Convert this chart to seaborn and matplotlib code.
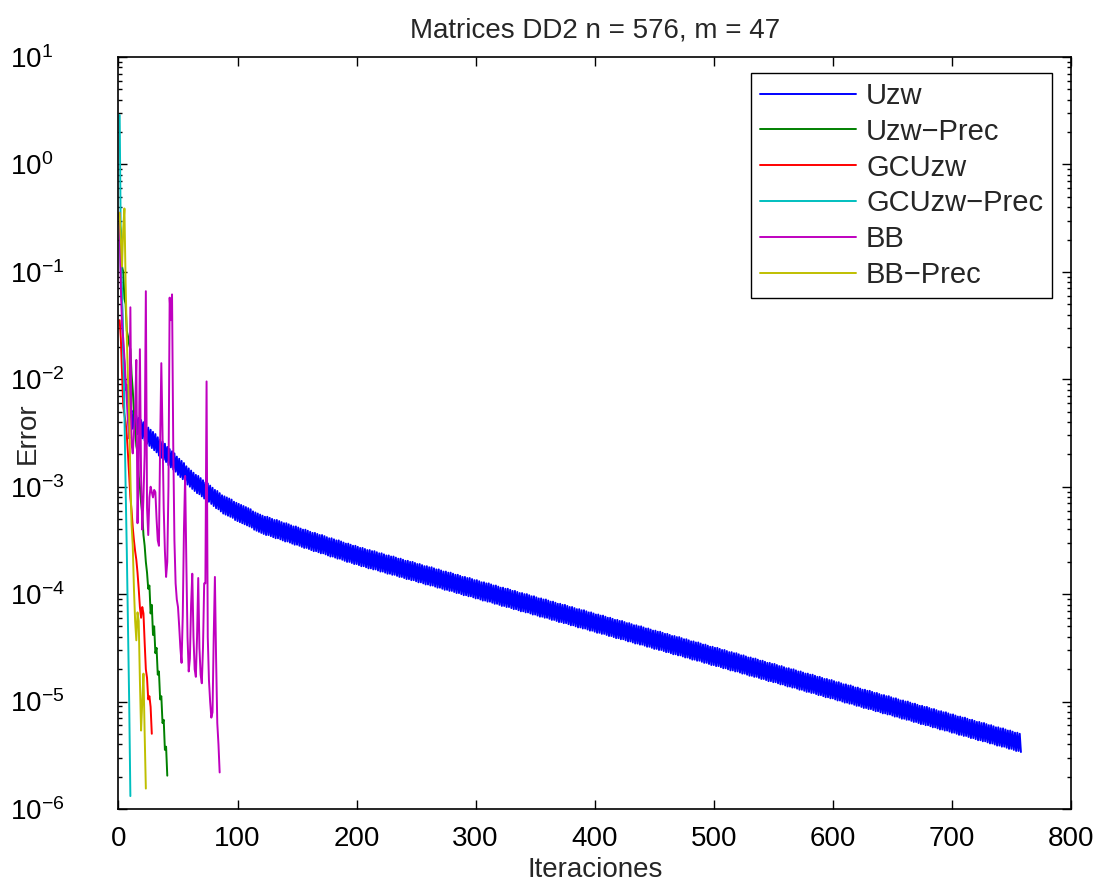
import numpy as np
import matplotlib
matplotlib.use("Agg")
import matplotlib.pyplot as plt
import seaborn as sns

# log10 del error, una entrada por iteracion
# Uzw oscila en cada iteracion: iteraciones impares (arriba) y pares (abajo)
uzw_impar = [
    -0.45, -1.30, -1.85, -2.05, -2.18, -2.29,
    -2.31, -2.34, -2.36, -2.38, -2.40, -2.43, -2.45, -2.47, -2.49, -2.51, -2.54, -2.56, -2.58,
    -2.60, -2.63, -2.65, -2.67, -2.69, -2.72, -2.74, -2.76, -2.78, -2.81, -2.83, -2.85,
    -2.87, -2.89, -2.90, -2.92, -2.94, -2.96, -2.97, -2.99, -3.01, -3.03, -3.04, -3.06, -3.08,
    -3.09, -3.10, -3.11, -3.12, -3.14, -3.15, -3.16, -3.17, -3.18, -3.19, -3.20, -3.21, -3.23,
    -3.24, -3.25, -3.26, -3.27,
    -3.28, -3.28, -3.29, -3.30, -3.31, -3.31, -3.32, -3.33, -3.34, -3.34, -3.35, -3.36, -3.37,
    -3.37, -3.38, -3.39, -3.40, -3.40, -3.41, -3.42,
    -3.43, -3.43, -3.44, -3.45, -3.45, -3.46, -3.47, -3.48, -3.48, -3.49, -3.50, -3.50, -3.51,
    -3.52, -3.53, -3.53, -3.54, -3.55, -3.55, -3.56,
    -3.57, -3.57, -3.58, -3.59, -3.59, -3.60, -3.60, -3.61, -3.62, -3.62, -3.63, -3.64, -3.64, -3.65, -3.65, -3.66,
    -3.67, -3.67, -3.68, -3.69, -3.69, -3.70, -3.70, -3.71, -3.72, -3.72, -3.73, -3.74, -3.74, -3.75, -3.75, -3.76,
    -3.77, -3.77, -3.78, -3.79, -3.79, -3.80, -3.80, -3.81, -3.82, -3.82, -3.83, -3.84, -3.84, -3.85, -3.85, -3.86,
    -3.87, -3.87, -3.88, -3.89, -3.89, -3.90, -3.90, -3.91, -3.92, -3.92, -3.93, -3.94, -3.94, -3.95, -3.95, -3.96,
    -3.97, -3.97, -3.98, -3.99, -3.99, -4.00, -4.00, -4.01, -4.02, -4.02, -4.03, -4.04, -4.04, -4.05, -4.05, -4.06,
    -4.07, -4.07, -4.08, -4.09, -4.09, -4.10, -4.10, -4.11, -4.12, -4.12, -4.13, -4.14, -4.14, -4.15, -4.15, -4.16,
    -4.17, -4.17, -4.18, -4.19, -4.19, -4.20, -4.20, -4.21, -4.22, -4.22, -4.23, -4.24, -4.24, -4.25, -4.25, -4.26,
    -4.27, -4.27, -4.28, -4.29, -4.29, -4.30, -4.30, -4.31, -4.32, -4.32, -4.33, -4.34, -4.34, -4.35, -4.35, -4.36,
    -4.37, -4.37, -4.38, -4.39, -4.39, -4.40, -4.40, -4.41, -4.42, -4.42, -4.43, -4.44, -4.44, -4.45, -4.45, -4.46,
    -4.47, -4.47, -4.48, -4.49, -4.49, -4.50, -4.50, -4.51, -4.52, -4.52, -4.53, -4.54, -4.54, -4.55, -4.55, -4.56,
    -4.57, -4.57, -4.58, -4.59, -4.59, -4.60, -4.60, -4.61, -4.62, -4.62, -4.63, -4.64, -4.64, -4.65, -4.65, -4.66,
    -4.67, -4.67, -4.68, -4.69, -4.69, -4.70, -4.70, -4.71, -4.72, -4.72, -4.73, -4.74, -4.74, -4.75, -4.75, -4.76,
    -4.77, -4.77, -4.78, -4.79, -4.79, -4.80, -4.80, -4.81, -4.82, -4.82, -4.83, -4.84, -4.84, -4.85, -4.85, -4.86,
    -4.87, -4.87, -4.88, -4.89, -4.89, -4.90, -4.90, -4.91, -4.92, -4.92, -4.93, -4.94, -4.94, -4.95, -4.95, -4.96,
    -4.97, -4.97, -4.98, -4.99, -4.99, -5.00, -5.00, -5.01, -5.02, -5.02, -5.03, -5.04, -5.04, -5.05, -5.05, -5.06,
    -5.07, -5.07, -5.08, -5.09, -5.09, -5.10, -5.10, -5.11, -5.12, -5.12, -5.13, -5.14, -5.14, -5.15, -5.15, -5.16,
    -5.17, -5.17, -5.18, -5.19, -5.19, -5.20, -5.20, -5.21, -5.22, -5.22, -5.23, -5.24, -5.24, -5.25, -5.25, -5.26,
    -5.27, -5.27, -5.28, -5.29, -5.29, -5.30,
]
uzw_par = [
    -1.00, -1.70, -2.10,
    -2.22, -2.35, -2.46,
    -2.48, -2.51, -2.53, -2.55, -2.57, -2.60, -2.62, -2.64, -2.66, -2.68, -2.71, -2.73, -2.75,
    -2.77, -2.80, -2.82, -2.84, -2.86, -2.89, -2.91, -2.93, -2.95, -2.98, -3.00, -3.02,
    -3.04, -3.06, -3.07, -3.09, -3.11, -3.13, -3.14, -3.16, -3.18, -3.20, -3.21, -3.23, -3.25,
    -3.26, -3.27, -3.28, -3.29, -3.31, -3.32, -3.33, -3.34, -3.35, -3.36, -3.37, -3.38, -3.40,
    -3.41, -3.42, -3.43, -3.44,
    -3.45, -3.45, -3.46, -3.47, -3.48, -3.48, -3.49, -3.50, -3.51, -3.51, -3.52, -3.53, -3.54,
    -3.54, -3.55, -3.56, -3.57, -3.57, -3.58, -3.59,
    -3.60, -3.60, -3.61, -3.62, -3.62, -3.63, -3.64, -3.65, -3.65, -3.66, -3.67, -3.67, -3.68,
    -3.69, -3.70, -3.70, -3.71, -3.72, -3.72, -3.73,
    -3.74, -3.74, -3.75, -3.76, -3.76, -3.77, -3.77, -3.78, -3.79, -3.79, -3.80, -3.81, -3.81, -3.82, -3.82, -3.83,
    -3.84, -3.84, -3.85, -3.86, -3.86, -3.87, -3.87, -3.88, -3.89, -3.89, -3.90, -3.91, -3.91, -3.92, -3.92, -3.93,
    -3.94, -3.94, -3.95, -3.96, -3.96, -3.97, -3.97, -3.98, -3.99, -3.99, -4.00, -4.01, -4.01, -4.02, -4.02, -4.03,
    -4.04, -4.04, -4.05, -4.06, -4.06, -4.07, -4.07, -4.08, -4.09, -4.09, -4.10, -4.11, -4.11, -4.12, -4.12, -4.13,
    -4.14, -4.14, -4.15, -4.16, -4.16, -4.17, -4.17, -4.18, -4.19, -4.19, -4.20, -4.21, -4.21, -4.22, -4.22, -4.23,
    -4.24, -4.24, -4.25, -4.26, -4.26, -4.27, -4.27, -4.28, -4.29, -4.29, -4.30, -4.31, -4.31, -4.32, -4.32, -4.33,
    -4.34, -4.34, -4.35, -4.36, -4.36, -4.37, -4.37, -4.38, -4.39, -4.39, -4.40, -4.41, -4.41, -4.42, -4.42, -4.43,
    -4.44, -4.44, -4.45, -4.46, -4.46, -4.47, -4.47, -4.48, -4.49, -4.49, -4.50, -4.51, -4.51, -4.52, -4.52, -4.53,
    -4.54, -4.54, -4.55, -4.56, -4.56, -4.57, -4.57, -4.58, -4.59, -4.59, -4.60, -4.61, -4.61, -4.62, -4.62, -4.63,
    -4.64, -4.64, -4.65, -4.66, -4.66, -4.67, -4.67, -4.68, -4.69, -4.69, -4.70, -4.71, -4.71, -4.72, -4.72, -4.73,
    -4.74, -4.74, -4.75, -4.76, -4.76, -4.77, -4.77, -4.78, -4.79, -4.79, -4.80, -4.81, -4.81, -4.82, -4.82, -4.83,
    -4.84, -4.84, -4.85, -4.86, -4.86, -4.87, -4.87, -4.88, -4.89, -4.89, -4.90, -4.91, -4.91, -4.92, -4.92, -4.93,
    -4.94, -4.94, -4.95, -4.96, -4.96, -4.97, -4.97, -4.98, -4.99, -4.99, -5.00, -5.01, -5.01, -5.02, -5.02, -5.03,
    -5.04, -5.04, -5.05, -5.06, -5.06, -5.07, -5.07, -5.08, -5.09, -5.09, -5.10, -5.11, -5.11, -5.12, -5.12, -5.13,
    -5.14, -5.14, -5.15, -5.16, -5.16, -5.17, -5.17, -5.18, -5.19, -5.19, -5.20, -5.21, -5.21, -5.22, -5.22, -5.23,
    -5.24, -5.24, -5.25, -5.26, -5.26, -5.27, -5.27, -5.28, -5.29, -5.29, -5.30, -5.31, -5.31, -5.32, -5.32, -5.33,
    -5.34, -5.34, -5.35, -5.36, -5.36, -5.37, -5.37, -5.38, -5.39, -5.39, -5.40, -5.41, -5.41, -5.42, -5.42, -5.43,
    -5.44, -5.44, -5.45, -5.46, -5.46, -5.47,
]

uzw_prec = [
    -0.55, -0.62, -0.95, -1.00, -1.25, -1.30, -1.55, -1.60, -1.68, -1.72,
    -1.95, -2.10, -2.30, -2.45, -2.62, -2.68, -2.90, -3.00, -3.15, -3.25,
    -3.45, -3.55, -3.70, -3.80, -3.95, -3.92, -4.18, -4.10, -4.38, -4.30,
    -4.55, -4.50, -4.75, -4.72, -4.98, -4.95, -5.20, -5.17, -5.45, -5.42, -5.69,
]
gcuzw = [
    -1.45, -1.62, -1.95, -2.25, -2.33, -2.40, -2.52, -2.70, -2.90, -3.10,
    -3.22, -3.38, -3.50, -3.60, -3.68, -3.80, -3.95, -4.12, -4.22, -4.12,
    -4.18, -4.45, -4.70, -4.78, -4.98, -4.95, -5.05, -5.30,
]
gcuzw_prec = [0.46, -0.75, -1.20, -1.75, -2.30, -3.00, -3.60, -4.30, -5.00, -5.88]
bb = [
    -0.45, -1.15, -1.50, -1.62, -1.80, -2.00, -2.20, -2.40, -2.55, -1.33,
    -2.60, -2.69, -2.50, -2.30, -1.82, -3.34, -2.80, -1.72, -2.90, -3.40,
    -3.10, -2.70, -1.18, -3.20, -3.45, -3.10, -3.00, -3.05, -3.10, -3.03,
    -3.05, -3.30, -3.50, -3.55, -2.60, -1.85, -2.50, -3.20, -3.60, -3.84,
    -3.70, -3.00, -1.24, -1.45, -1.21, -2.60, -3.50, -3.90, -4.05, -4.12,
    -4.30, -4.50, -4.64, -4.20, -3.40, -2.90, -3.70, -4.40, -4.72, -4.60,
    -4.10, -3.81, -4.40, -4.70, -4.77, -4.40, -3.85, -4.50, -4.75, -4.83,
    -4.50, -3.90, -3.90, -2.02, -4.40, -4.80, -5.00, -5.15, -5.10, -4.40,
    -3.84, -4.60, -5.20, -5.40, -5.66,
]
bb_prec = [
    -0.45, -0.70, -0.95, -0.60, -0.41, -1.10, -1.60, -2.00, -2.35, -2.90,
    -3.35, -3.55, -3.95, -4.25, -4.43, -4.17, -4.25, -4.80, -5.27, -5.00,
    -4.74, -5.30, -5.81,
]

nombres = ["Uzw", "Uzw\u2212Prec", "GCUzw", "GCUzw\u2212Prec", "BB", "BB\u2212Prec"]
colores = ["#0000ff", "#008000", "#ff0000", "#00bfbf", "#bf00bf", "#bfbf00"]
decadas = [-6, -5, -4, -3, -2, -1, 0, 1]

uzw = np.column_stack([uzw_impar, uzw_par]).ravel()
series = [uzw, uzw_prec, gcuzw, gcuzw_prec, bb, bb_prec]

sns.set_style("ticks")
plt.rcParams['font.family'] = ['Liberation Sans', 'DejaVu Sans']
plt.rcParams['mathtext.fontset'] = 'custom'
plt.rcParams['mathtext.rm'] = 'Liberation Sans'
plt.rcParams['mathtext.it'] = 'Liberation Sans:italic'
plt.rcParams['mathtext.bf'] = 'Liberation Sans:bold'

fig = plt.figure(figsize=(11.02, 8.88), dpi=100)
ax = fig.add_axes([0.1075, 0.089, 0.8643, 0.8468])

for nombre, logerr, color in zip(nombres, series, colores):
    it = np.arange(1, len(logerr) + 1)
    sns.lineplot(x=it, y=10.0 ** np.asarray(logerr), color=color, linewidth=1.4,
                 label=nombre, ax=ax, estimator=None, sort=False)

ax.set_yscale('log')
ax.set_xlim(0, 800)
ax.set_ylim(1e-6, 1e1)
ax.set_xticks(np.arange(0, 801, 100))
ax.set_yticks([10.0 ** d for d in decadas])
ax.set_yticklabels([r'$\mathdefault{10^{%d}}$' % d for d in decadas])
ax.set_yticks([m * 10.0 ** d for d in decadas[:-1] for m in range(2, 10)], minor=True)
ax.set_yticklabels([], minor=True)

for s in ax.spines.values():
    s.set_color('black')
    s.set_linewidth(1.2)
ax.tick_params(which='both', direction='in', top=True, right=True, colors='black',
               labelsize=20, width=1.0)
ax.tick_params(which='major', length=6.5)
ax.tick_params(which='minor', length=3)
ax.tick_params(axis='x', pad=12)
ax.tick_params(axis='y', pad=78)
for t in ax.get_yticklabels():
    t.set_horizontalalignment('left')

ax.set_title("Matrices DD2 n = 576, m = 47", fontsize=20, y=1.0253, pad=0)
ax.set_xlabel("Iteraciones", fontsize=20)
ax.set_ylabel("Error", fontsize=20)
ax.xaxis.set_label_coords(0.5, -0.064)
ax.yaxis.set_label_coords(-0.082, 0.5)

leg = ax.legend(loc='upper right', bbox_to_anchor=(1052 / 1102, 1 - 73 / 888),
                bbox_transform=fig.transFigure, borderaxespad=0, frameon=True,
                fancybox=False, edgecolor='black', framealpha=1, fontsize=21,
                handlelength=3.3, handletextpad=0.34, labelspacing=0.27, borderpad=0.3)
leg.get_frame().set_linewidth(1.0)

fig.savefig("out.png", dpi=100, facecolor='white')
